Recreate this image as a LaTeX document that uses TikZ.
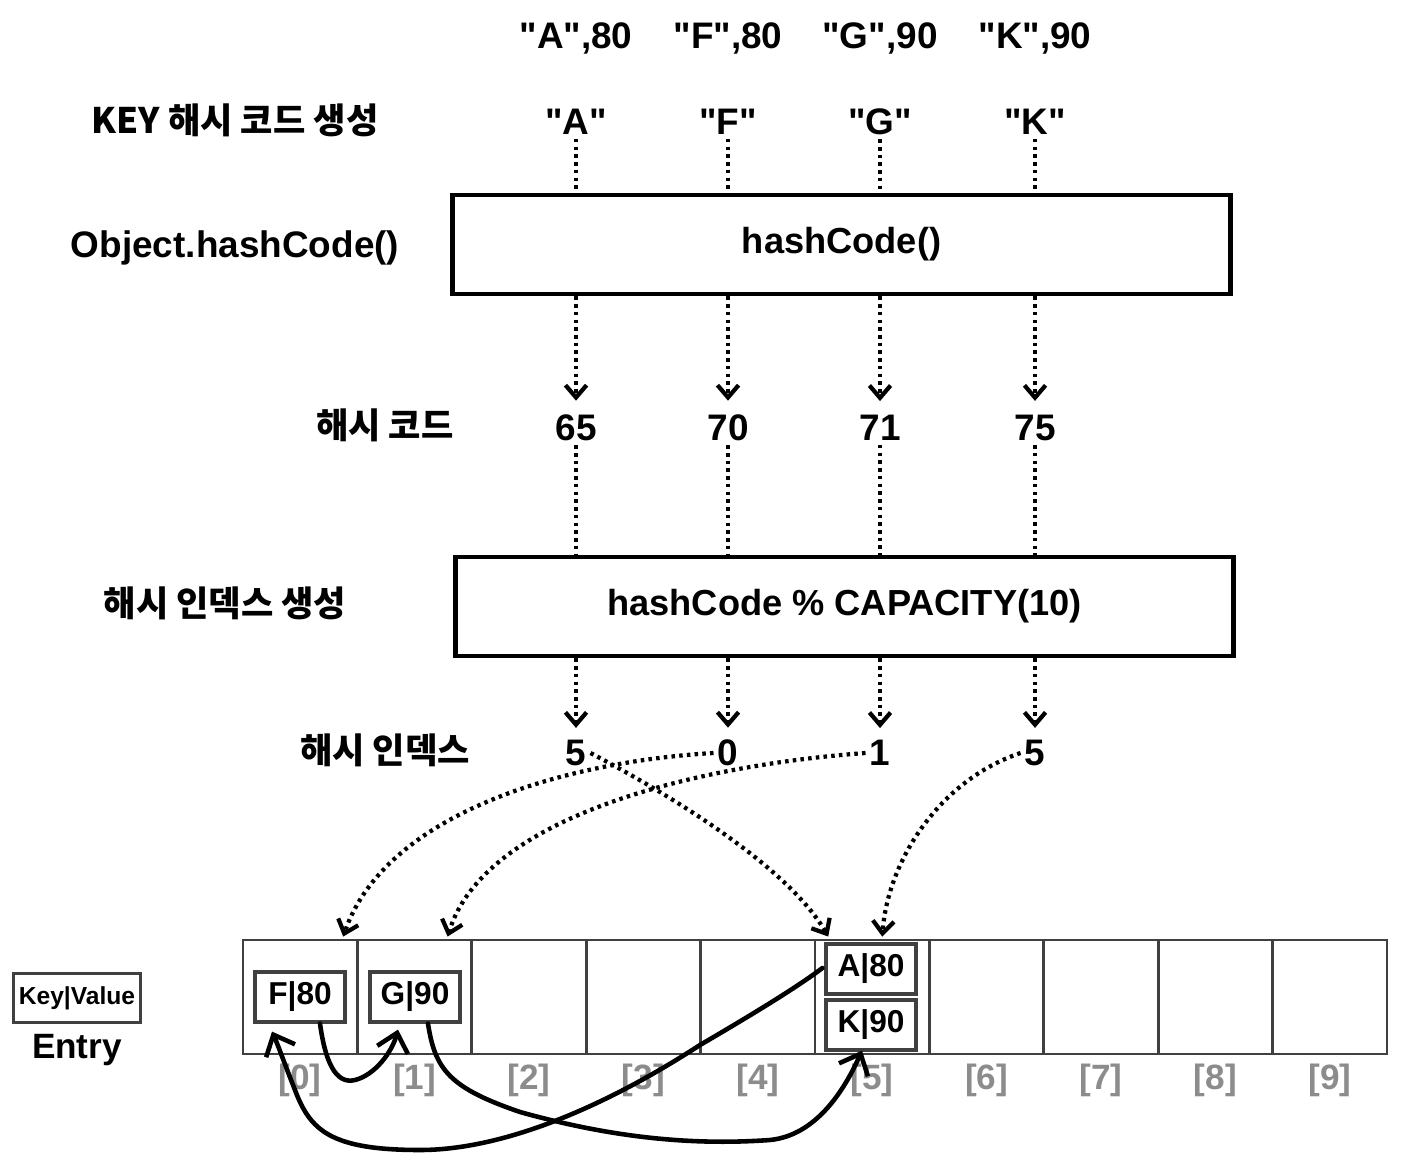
\documentclass[tikz,border=0pt]{standalone}
\usepackage{fontspec}
\setmainfont{Liberation Sans}[Ligatures=TeXOff]
\newfontfamily\kr{Noto Sans CJK KR}
\usetikzlibrary{arrows.meta,calc,positioning}
\newcommand{\dq}{\char"22\relax}

\begin{document}
\begin{tikzpicture}[x=0.01cm, y=-0.01cm,
  lbl/.style={font=\fontsize{10.5}{13}\selectfont\bfseries, inner sep=1pt},
  krlbl/.style={font=\fontsize{10}{12}\selectfont\kr\bfseries, inner sep=1pt},
  funcbox/.style={draw, line width=1.3pt, minimum width=7.77cm, minimum height=0.99cm,
    font=\fontsize{10.3}{12}\selectfont\bfseries},
  cell/.style={draw, black!75, line width=0.8pt, minimum width=1.144cm, minimum height=1.14cm},
  entry/.style={draw=black!75, text=black, line width=0.9pt, minimum width=0.9cm, minimum height=0.5cm,
    inner sep=1pt, font=\fontsize{9}{10}\selectfont\bfseries},
  idxlbl/.style={font=\fontsize{10}{12}\selectfont\bfseries, black!45},
  dotline/.style={line width=1.2pt, dash pattern=on 1pt off 1.2pt},
  dotarrow/.style={dotline, -{Straight Barb[length=3.5pt,width=6pt]}},
  hand/.style={line width=1.3pt, line cap=round, line join=round,
    -{Straight Barb[length=5pt,width=9pt]}}
]
  \useasboundingbox (0,0) rectangle (1404,1174);

  % left column: step labels
  \node[krlbl] (lkey) at (235,120) {KEY 해시 코드 생성};
  \node[lbl] (lobj) at (235,248) {Object.hashCode()};
  \node[krlbl] (lcode) at (385,425) {해시 코드};
  \node[krlbl] (lgen) at (225,603) {해시 인덱스 생성};
  \node[krlbl] (lidx) at (385,750) {해시 인덱스};

  % input pairs, keys, hash codes and indices per column
  \foreach \k/\v/\x/\c/\i in {A/80/576/65/5, F/80/728/70/0, G/90/880/71/1, K/90/1035/75/5} {
    \node[lbl] (p\k) at (\x,38) {\dq\k\dq,\v};
    \node[lbl] (k\k) at (\x,122) {\dq\k\dq};
    \node[lbl] (h\k) at (\x,428) {\c};
    \node[lbl] (i\k) at (\x,753) {\i};
  }

  % the two function boxes
  \node[funcbox] (hash) at (841.5,244.5) {hashCode()};
  \node[funcbox] (mod) at (844.5,606.5) {hashCode \% CAPACITY(10)};

  % vertical dotted flow
  \foreach \k in {A,F,G,K} {
    \draw[dotline] (k\k) -- (k\k |- hash.north);
    \draw[dotarrow] (hash.south -| h\k) -- ($(h\k.north)+(0,-10)$);
    \draw[dotline] (h\k) -- (h\k |- mod.north);
    \draw[dotarrow] (mod.south -| i\k) -- ($(i\k.north)+(0,-8)$);
  }

  % bucket array CAPACITY = 10
  \foreach \n in {0,...,9} {
    \node[cell] (c\n) at ({300.2+114.4*\n},997) {};
    \node[idxlbl] (n\n) at ({300.2+114.4*\n},1080) {[\n]};
  }

  % entries in the buckets
  \node[entry] (eF) at (300,997) {F|80};
  \node[entry] (eG) at (415,997) {G|90};
  \node[entry] (eA) at (871,969) {A|80};
  \node[entry] (eK) at (871,1025) {K|90};

  % legend
  \node[entry, minimum width=1.27cm, minimum height=0.49cm,
    font=\fontsize{7}{9}\selectfont\bfseries] (legend) at (77,998) {Key|Value};
  \node[lbl, font=\fontsize{10}{12}\selectfont\bfseries] (lentry) at (77,1050) {Entry};

  % index -> bucket
  \draw[dotarrow] (iF.west) .. controls (560,762) and (385,815) .. ($(c0.north)+(43,-2)$);
  \draw[dotarrow] (iG.west) .. controls (700,765) and (485,815) .. ($(c1.north)+(33,-2)$);
  \draw[dotarrow] (iA.east) .. controls (680,800) and (790,870) .. ($(c5.north)+(-44,-2)$);
  \draw[dotarrow] (iK.west) .. controls (940,780) and (888,860) .. ($(c5.north)+(10,-2)$);

  % hand-drawn links between entries
  \draw[hand] ($(eF.south)+(20,0)$) .. controls (325,1060) and (335,1085) .. (355,1080)
    .. controls (375,1075) and (392,1052) .. ($(eG.south)+(-17,6)$);
  \draw[hand] ($(eG.south)+(13,0)$) .. controls (435,1070) and (450,1088) .. (520,1112)
    .. controls (620,1140) and (700,1145) .. (770,1140)
    .. controls (820,1135) and (848,1082) .. ($(eK.south)+(-9,-1)$);
  \draw[hand] ($(eA.west)+(-2,-1)$) .. controls (800,985) and (760,1010) .. (700,1045)
    .. controls (600,1110) and (500,1150) .. (420,1150)
    .. controls (330,1150) and (310,1130) .. (295,1090)
    .. controls (285,1065) and (278,1045) .. ($(eF.south)+(-28,8)$);
\end{tikzpicture}
\end{document}
